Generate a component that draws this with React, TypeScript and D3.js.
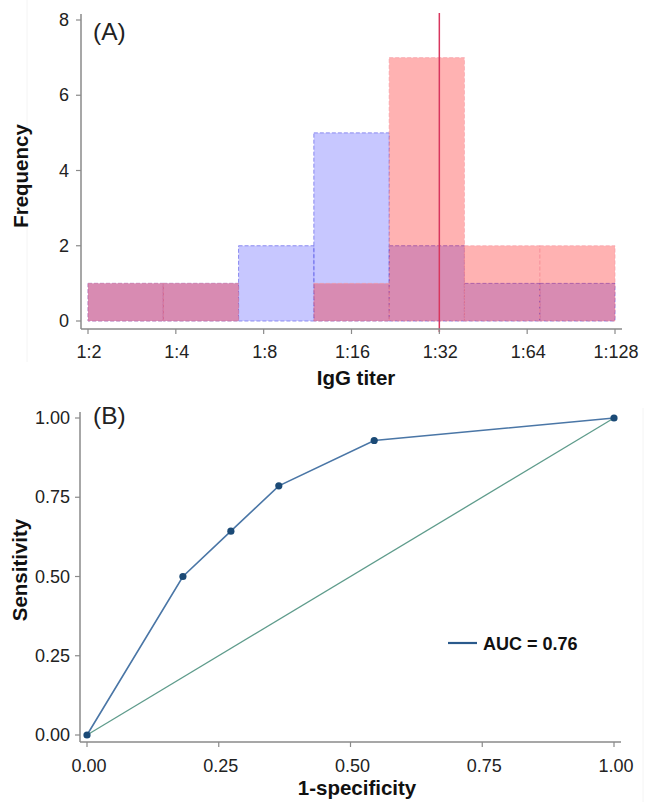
import * as d3 from "d3";

// panel A: histogram of IgG titers (log2 bins)
const titerLabels = ["1:2", "1:4", "1:8", "1:16", "1:32", "1:64", "1:128"];
const titerLog2 = [1, 2, 3, 4, 5, 6, 7];
const negCounts = [1, 1, 2, 5, 2, 1, 1]; // blue group
const posCounts = [1, 1, 0, 1, 7, 2, 2]; // red group
const freqTicks = [0, 2, 4, 6, 8];
const cutoffLog2 = 5;

// panel B: ROC curve
const rocFpr = [0, 0.182, 0.273, 0.364, 0.545, 1];
const rocTpr = [0, 0.5, 0.643, 0.786, 0.929, 1];
const rocTicks = [0, 0.25, 0.5, 0.75, 1];
const aucLabel = "AUC = 0.76";

const W = 645;
const H = 802;
const font = "'Liberation Sans', Arial, sans-serif";
const axisCol = "#8a8a8a";
const textCol = "#222";
const tickFs = 18;

export default function App() {
  //scales A
  const xA = d3.scaleLinear().domain([1, 7]).range([88, 615]);
  const yA = d3.scaleLinear().domain([0, 8]).range([321, 20]);
  const binW = 6 / negCounts.length;
  const bins = negCounts.map((_, i) => 1 + i * binW);
  const axisYA = 329;
  const axisXA = 81;

  //scales B
  const xB = d3.scaleLinear().domain([0, 1]).range([87, 614]);
  const yB = d3.scaleLinear().domain([0, 1]).range([735, 418]);
  const axisYB = 742;
  const axisXB = 80;

  const rocPts = rocFpr.map((x, i) => [x, rocTpr[i]] as [number, number]);
  const rocLine = d3
    .line<[number, number]>()
    .x((d) => xB(d[0]))
    .y((d) => yB(d[1]));

  const fmt2 = d3.format(".2f");

  return (
    <svg
      width={W}
      height={H}
      style={{ position: "absolute", left: 0, top: 0, background: "#fff" }}
      fontFamily={font}
    >
      {/* faint panel borders */}
      <line x1={27} x2={27} y1={0} y2={362} stroke="#f4f4f4" />
      <line x1={643} x2={643} y1={408} y2={802} stroke="#f4f4f4" />

      {/* ---------- (A) ---------- */}
      {bins.map((b, i) => (
        <rect
          key={"n" + i}
          x={xA(b)}
          y={yA(negCounts[i])}
          width={xA(b + binW) - xA(b)}
          height={yA(0) - yA(negCounts[i])}
          fill="rgba(0,0,255,0.22)"
          stroke="rgba(110,110,235,0.75)"
          strokeWidth={1}
          strokeDasharray="4,2"
          style={{ display: negCounts[i] ? undefined : "none" }}
        />
      ))}
      {bins.map((b, i) => (
        <rect
          key={"p" + i}
          x={xA(b)}
          y={yA(posCounts[i])}
          width={xA(b + binW) - xA(b)}
          height={yA(0) - yA(posCounts[i])}
          fill="rgba(255,0,0,0.3)"
          stroke="rgba(245,150,160,0.6)"
          strokeWidth={1}
          strokeDasharray="4,2"
          style={{ display: posCounts[i] ? undefined : "none" }}
        />
      ))}

      <line
        x1={xA(cutoffLog2)}
        x2={xA(cutoffLog2)}
        y1={13}
        y2={axisYA + 3}
        stroke="#d8365e"
        strokeWidth={1.5}
      />

      {/* axes A */}
      <line x1={axisXA} x2={axisXA} y1={14} y2={axisYA} stroke={axisCol} strokeWidth={1.5} />
      <line x1={axisXA} x2={622} y1={axisYA} y2={axisYA} stroke={axisCol} strokeWidth={1.5} />
      {freqTicks.map((t) => (
        <g key={"fy" + t}>
          <line x1={axisXA - 5} x2={axisXA} y1={yA(t)} y2={yA(t)} stroke={axisCol} strokeWidth={1.2} />
          <text x={69} y={yA(t) + 6} textAnchor="end" fontSize={tickFs} fill={textCol}>
            {t}
          </text>
        </g>
      ))}
      {titerLog2.map((t, i) => (
        <g key={"fx" + t}>
          <line x1={xA(t)} x2={xA(t)} y1={axisYA} y2={axisYA + 5} stroke={axisCol} strokeWidth={1.2} />
          <text x={xA(t) + 1} y={358} textAnchor="middle" fontSize={tickFs} fill={textCol}>
            {titerLabels[i]}
          </text>
        </g>
      ))}
      <text x={93} y={40} fontSize={24.5} fill={textCol}>
        (A)
      </text>
      <text
        transform={`translate(28,176) rotate(-90)`}
        textAnchor="middle"
        fontSize={20.5}
        fontWeight="bold"
        fill="#111"
      >
        Frequency
      </text>
      <text x={356} y={385} textAnchor="middle" fontSize={20.5} fontWeight="bold" fill="#111">
        IgG titer
      </text>

      {/* ---------- (B) ---------- */}
      <line x1={axisXB} x2={axisXB} y1={412} y2={axisYB} stroke={axisCol} strokeWidth={1.5} />
      <line x1={axisXB} x2={621} y1={axisYB} y2={axisYB} stroke={axisCol} strokeWidth={1.5} />
      {rocTicks.map((t) => (
        <g key={"ry" + t}>
          <line x1={axisXB - 5} x2={axisXB} y1={yB(t)} y2={yB(t)} stroke={axisCol} strokeWidth={1.2} />
          <text x={70} y={yB(t) + 6} textAnchor="end" fontSize={tickFs} fill={textCol}>
            {fmt2(t)}
          </text>
          <line x1={xB(t)} x2={xB(t)} y1={axisYB} y2={axisYB + 5} stroke={axisCol} strokeWidth={1.2} />
          <text x={xB(t) + 2} y={772} textAnchor="middle" fontSize={tickFs} fill={textCol}>
            {fmt2(t)}
          </text>
        </g>
      ))}

      <line
        x1={xB(0)}
        y1={yB(0)}
        x2={xB(1)}
        y2={yB(1)}
        stroke="#5f9c8c"
        strokeWidth={1.3}
      />
      <path d={rocLine(rocPts) || ""} fill="none" stroke="#4a76a6" strokeWidth={1.6} />
      {rocPts.map((d, i) => (
        <circle key={"pt" + i} cx={xB(d[0])} cy={yB(d[1])} r={3.6} fill="#1b4a76" />
      ))}

      <line x1={448} x2={477} y1={643} y2={643} stroke="#2a5a8c" strokeWidth={2.2} />
      <text x={483} y={650} fontSize={18} fontWeight="bold" fill="#111">
        {aucLabel}
      </text>

      <text x={93} y={424} fontSize={24.5} fill={textCol}>
        (B)
      </text>
      <text
        transform={`translate(27,570) rotate(-90)`}
        textAnchor="middle"
        fontSize={20.5}
        fontWeight="bold"
        fill="#111"
      >
        Sensitivity
      </text>
      <text x={357} y={795} textAnchor="middle" fontSize={20.5} fontWeight="bold" fill="#111">
        1-specificity
      </text>
    </svg>
  );
}
